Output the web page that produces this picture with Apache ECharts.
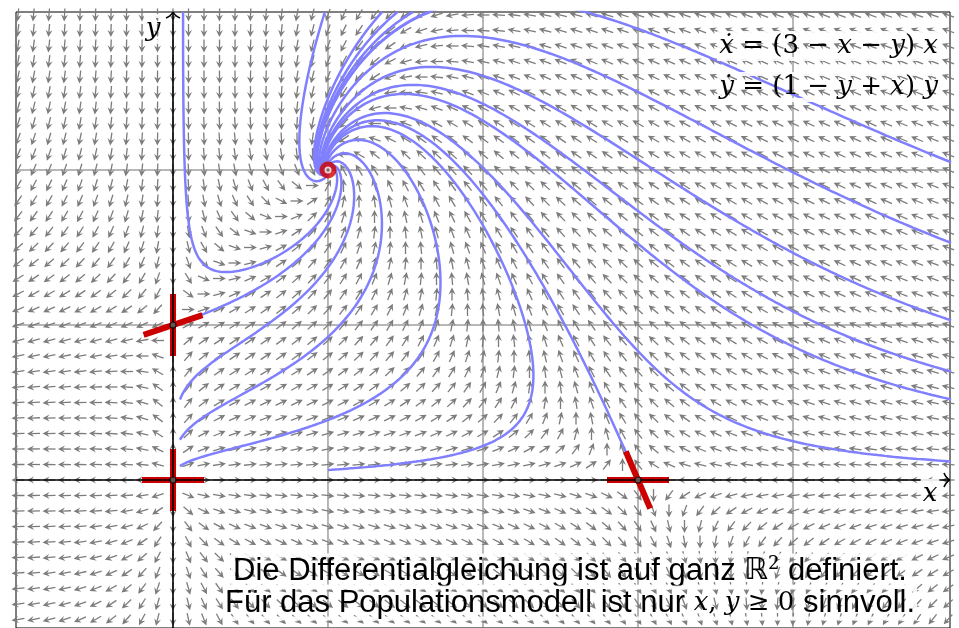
<!DOCTYPE html>
<html><head><meta charset="utf-8">
<script src="https://cdn.jsdelivr.net/npm/echarts@6/dist/echarts.min.js"></script>
<style>html,body{margin:0;padding:0;background:#fff}#c{width:959px;height:628px}</style>
</head><body><div id="c"></div>
<script>
// ODE (from chart text): xdot = (3 - x - y) x ; ydot = (1 - y + x) y
const xdotCoef = [3, -1, -1];   // constant, coef of x, coef of y
const ydotCoef = [1, 1, -1];    // constant, coef of x, coef of y
const xRange = [-1.0129, 5.0129];
const yRange = [-0.9548, 3.0194];
const gridXs = [1, 2, 3, 4];
const gridYs = [1, 2];
const arrowXStart = -1.0, arrowXCount = 61;
const arrowYStart = -0.9, arrowYCount = 40;
const arrowStep = 0.1;
// streamline start points
const streamStarts = [
  [0.045, 0.09], [0.045, 0.26], [0.045, 0.52],
  [0.03, 1.01],
  [2.99, 0.023],
  [1.0, 0.065],
  [0.065, 3.02], [0.98, 3.02], [1.35, 3.02], [1.45, 3.02], [1.55, 3.02], [1.66, 3.02],
  [5.02, 2.05], [5.02, 1.53], [5.02, 1.03], [5.02, 0.70], [5.02, 0.52], [5.02, 0.12]
];
const saddles = [[0, 0], [0, 1], [3, 0]];
const saddleDirs = [[[1, 0], [0, 1]], [[0, 1], [3, 1]], [[1, 0], [3, -7]]];
const nodeMarks = [[0, 0], [0, 1], [3, 0]];
const focus = [[1, 2]];

function f(x, y) {
  return [(xdotCoef[0] + xdotCoef[1] * x + xdotCoef[2] * y) * x,
          (ydotCoef[0] + ydotCoef[1] * x + ydotCoef[2] * y) * y];
}
function integrate(p) {
  let x = p[0], y = p[1];
  const pts = [[x, y]];
  const dt = 0.002;
  for (let i = 0; i < 40000; i++) {
    const k1 = f(x, y);
    const k2 = f(x + dt / 2 * k1[0], y + dt / 2 * k1[1]);
    const k3 = f(x + dt / 2 * k2[0], y + dt / 2 * k2[1]);
    const k4 = f(x + dt * k3[0], y + dt * k3[1]);
    x += dt / 6 * (k1[0] + 2 * k2[0] + 2 * k3[0] + k4[0]);
    y += dt / 6 * (k1[1] + 2 * k2[1] + 2 * k3[1] + k4[1]);
    const last = pts[pts.length - 1];
    if (Math.hypot(x - last[0], y - last[1]) > 0.01) pts.push([x, y]);
    if (Math.hypot(x - focus[0][0], y - focus[0][1]) < 0.004) { pts.push([x, y]); break; }
    if (x < -3 || x > 12 || y < -3 || y > 12) break;
  }
  return pts;
}

const arrowData = [];
for (let i = 0; i < arrowXCount; i++) {
  for (let j = 0; j < arrowYCount; j++) {
    const x = +(arrowXStart + i * arrowStep).toFixed(3);
    const y = +(arrowYStart + j * arrowStep).toFixed(3);
    const v = f(x, y);
    const n = Math.hypot(v[0], v[1]);
    if (n < 1e-9) continue;
    arrowData.push([x, y, v[0] / n, v[1] / n]);
  }
}

const series = [];
series.push({
  type: 'custom', silent: true, z: 1, clip: false,
  data: [[0, 0]],
  renderItem: function (params, api) {
    const ch = [];
    gridXs.forEach(function (gx) {
      const a = api.coord([gx, yRange[0]]), b = api.coord([gx, yRange[1]]);
      ch.push({ type: 'line', shape: { x1: a[0], y1: a[1], x2: b[0], y2: b[1] }, style: { stroke: '#707070', lineWidth: 1 } });
    });
    gridYs.forEach(function (gy) {
      const a = api.coord([xRange[0], gy]), b = api.coord([xRange[1], gy]);
      ch.push({ type: 'line', shape: { x1: a[0], y1: a[1], x2: b[0], y2: b[1] }, style: { stroke: '#707070', lineWidth: 1 } });
    });
    return { type: 'group', children: ch };
  }
});
series.push({
  type: 'custom', silent: true, z: 2,
  data: arrowData,
  renderItem: function (params, api) {
    const c = api.coord([api.value(0), api.value(1)]);
    const ux = api.value(2), uy = -api.value(3);
    const L = 13, hl = 6.5, hw = 3.5;
    const tx = c[0] - ux * L / 2, ty = c[1] - uy * L / 2;
    const hx = c[0] + ux * L / 2, hy = c[1] + uy * L / 2;
    const bx = hx - ux * hl, by = hy - uy * hl;
    const px = -uy, py = ux;
    return {
      type: 'group', children: [
        { type: 'line', shape: { x1: tx, y1: ty, x2: bx + ux * 2, y2: by + uy * 2 }, style: { stroke: '#7c7c7c', lineWidth: 1.3 } },
        { type: 'polygon', shape: { points: [[hx, hy], [bx + px * hw - ux * 0.5, by + py * hw - uy * 0.5], [bx + ux * 2, by + uy * 2], [bx - px * hw - ux * 0.5, by - py * hw - uy * 0.5]] }, style: { fill: '#7c7c7c' } }
      ]
    };
  }
});
streamStarts.forEach(function (s) {
  series.push({
    type: 'line', data: integrate(s), showSymbol: false, symbol: 'none', silent: true, z: 3,
    lineStyle: { color: '#8080ff', width: 2.5 }, animation: false
  });
});
saddles.forEach(function (p, k) {
  saddleDirs[k].forEach(function (d) {
    const n = Math.hypot(d[0], d[1]), h = 0.2;
    series.push({
      type: 'line', silent: true, z: 4, symbol: 'none', animation: false,
      data: [[p[0] - h * d[0] / n, p[1] - h * d[1] / n], [p[0] + h * d[0] / n, p[1] + h * d[1] / n]],
      lineStyle: { color: '#cc0000', width: 6, cap: 'butt' }
    });
  });
});
series.push({
  type: 'custom', silent: true, z: 5, clip: false,
  data: [[0, 0]],
  renderItem: function (params, api) {
    const a = api.coord([xRange[0], 0]), b = api.coord([xRange[1], 0]);
    const c = api.coord([0, yRange[0]]), d = api.coord([0, yRange[1]]);
    const st = { stroke: '#000', lineWidth: 1.6, fill: null };
    return {
      type: 'group', children: [
        { type: 'line', shape: { x1: a[0], y1: a[1], x2: b[0], y2: b[1] }, style: st },
        { type: 'line', shape: { x1: c[0], y1: c[1], x2: d[0], y2: d[1] }, style: st },
        { type: 'bezierCurve', shape: { x1: b[0] - 6, y1: b[1] - 7, cpx1: b[0] - 4, cpy1: b[1] - 2, x2: b[0], y2: b[1] }, style: st },
        { type: 'bezierCurve', shape: { x1: b[0] - 6, y1: b[1] + 7, cpx1: b[0] - 4, cpy1: b[1] + 2, x2: b[0], y2: b[1] }, style: st },
        { type: 'bezierCurve', shape: { x1: d[0] - 7, y1: d[1] + 6, cpx1: d[0] - 2, cpy1: d[1] + 4, x2: d[0], y2: d[1] }, style: st },
        { type: 'bezierCurve', shape: { x1: d[0] + 7, y1: d[1] + 6, cpx1: d[0] + 2, cpy1: d[1] + 4, x2: d[0], y2: d[1] }, style: st }
      ]
    };
  }
});
series.push({
  type: 'scatter', data: nodeMarks, symbol: 'circle', symbolSize: 6, silent: true, z: 6,
  itemStyle: { color: '#666', borderColor: '#000', borderWidth: 1.2 }
});
series.push({ type: 'scatter', data: focus, symbolSize: 17, silent: true, z: 6, itemStyle: { color: '#d00000' } });
series.push({ type: 'scatter', data: focus, symbolSize: 7, silent: true, z: 7, itemStyle: { color: '#fff' } });
series.push({ type: 'scatter', data: focus, symbolSize: 3.5, silent: true, z: 8, itemStyle: { color: '#555' } });

const serif = 'DejaVu Serif';
const halo = { textBorderColor: 'rgba(255,255,255,0.9)', textBorderWidth: 4 };
const eqRich = {
  i: { fontFamily: serif, fontStyle: 'italic', fontSize: 26, fill: '#000' },
  r: { fontFamily: serif, fontSize: 26, fill: '#000' }
};
const chart = echarts.init(document.getElementById('c'), null, { renderer: 'canvas' });
chart.setOption({
  animation: false,
  backgroundColor: '#fff',
  grid: { left: 16, right: 9, top: 12, bottom: 0, show: true, borderColor: '#000', borderWidth: 1, backgroundColor: 'transparent' },
  xAxis: { type: 'value', min: xRange[0], max: xRange[1], show: false },
  yAxis: { type: 'value', min: yRange[0], max: yRange[1], show: false },
  series: series,
  graphic: [
    { type: 'text', x: 938, y: 46, z: 100, style: Object.assign({ align: 'right', verticalAlign: 'middle', rich: eqRich,
        text: '{i|ẋ}{r| = (3 − }{i|x}{r| − }{i|y}{r|) }{i|x}' }, halo) },
    { type: 'text', x: 938, y: 87, z: 100, style: Object.assign({ align: 'right', verticalAlign: 'middle', rich: eqRich,
        text: '{i|ẏ}{r| = (1 − }{i|y}{r| + }{i|x}{r|) }{i|y}' }, halo) },
    { type: 'text', x: 930, y: 494, z: 100, style: Object.assign({ align: 'center', verticalAlign: 'middle', text: 'x', fontFamily: serif, fontStyle: 'italic', fontSize: 26, fill: '#000' }, halo) },
    { type: 'text', x: 153, y: 29, z: 100, style: Object.assign({ align: 'center', verticalAlign: 'middle', text: 'y', fontFamily: serif, fontStyle: 'italic', fontSize: 26, fill: '#000' }, halo) },
    { type: 'text', x: 570, y: 571, z: 100, style: Object.assign({
        align: 'center', verticalAlign: 'middle',
        rich: {
          s: { fontFamily: 'Liberation Sans', fontSize: 31, fill: '#000' },
          m: { fontFamily: 'DejaVu Sans', fontSize: 30, fill: '#000' },
          sup: { fontFamily: 'DejaVu Serif', fontSize: 18, fill: '#000', verticalAlign: 'top', padding: [0, 0, 12, 0] }
        },
        text: '{s|Die Differentialgleichung ist auf ganz }{m|ℝ}{sup|2}{s| definiert.}' }, halo) },
    { type: 'text', x: 570, y: 603, z: 100, style: Object.assign({
        align: 'center', verticalAlign: 'middle',
        rich: {
          s: { fontFamily: 'Liberation Sans', fontSize: 31, fill: '#000' },
          i: { fontFamily: serif, fontStyle: 'italic', fontSize: 26, fill: '#000' },
          m: { fontFamily: serif, fontSize: 26, fill: '#000' }
        },
        text: '{s|Für das Populationsmodell ist nur }{i|x}{m|, }{i|y}{m| ≥ 0}{s| sinnvoll.}' }, halo) }
  ]
});
</script></body></html>
